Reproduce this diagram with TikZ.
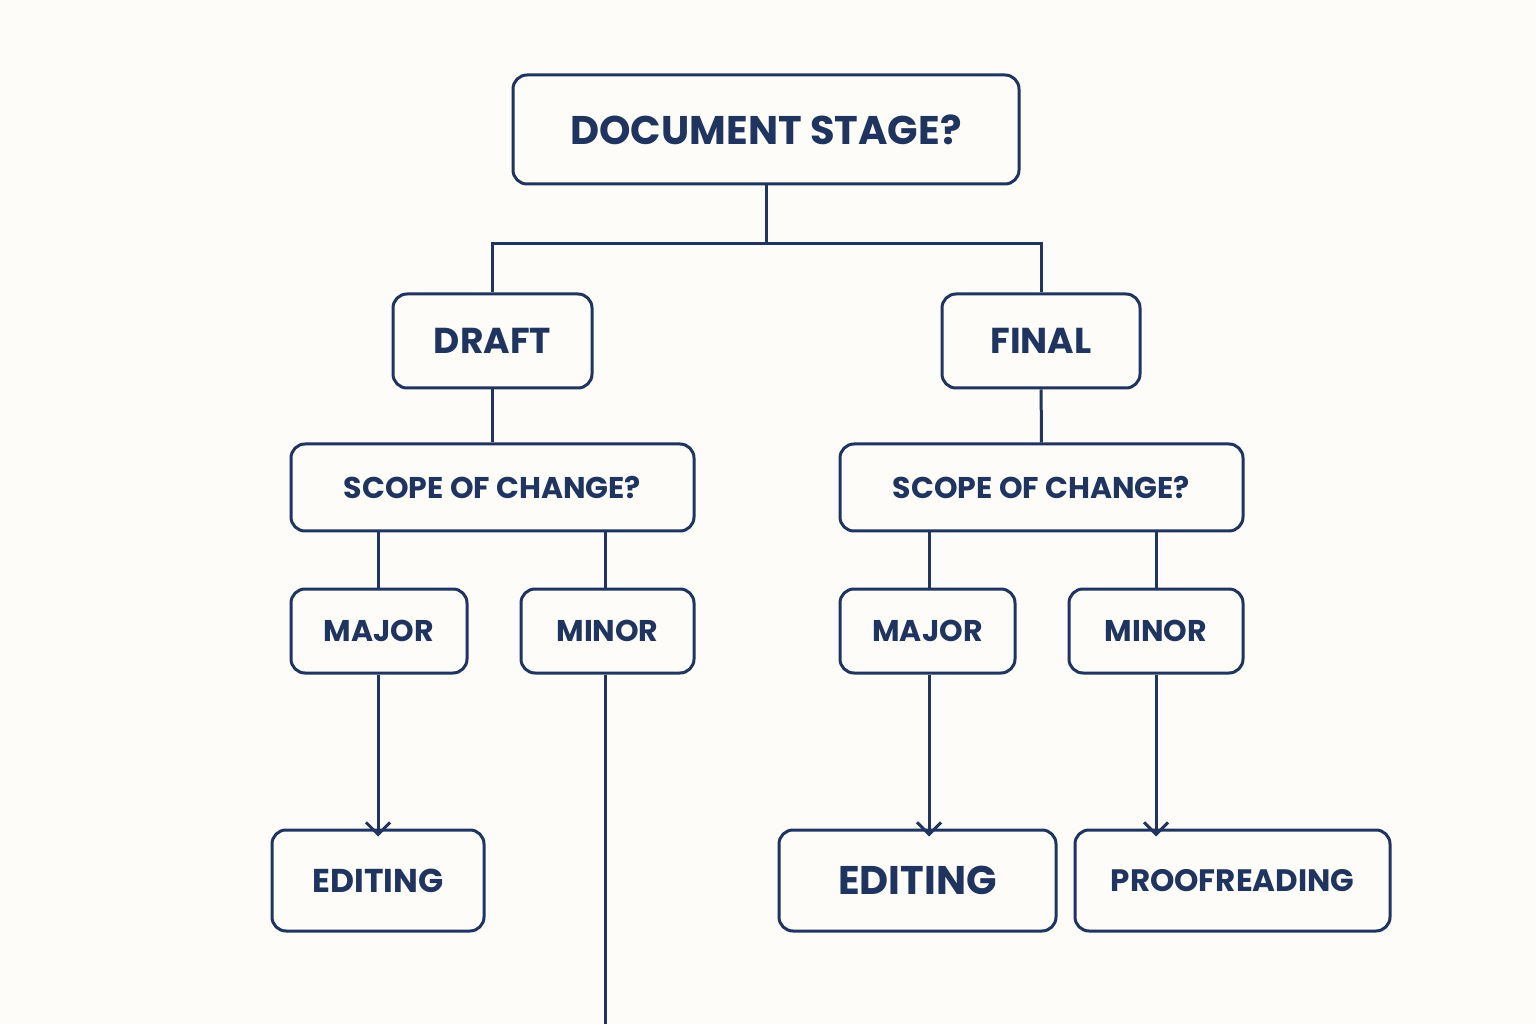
\documentclass[tikz,border=0pt]{standalone}
\usepackage{fontspec}
\setmainfont{Poppins}
\usetikzlibrary{arrows.meta}
\definecolor{navy}{HTML}{1F3560}
\definecolor{bg}{HTML}{FDFCF8}
\begin{document}
\begin{tikzpicture}[x=0.5pt,y=-0.5pt,
  box/.style={draw=navy,line width=1.5pt,rounded corners=7pt,text=navy,font=\bfseries,inner sep=0pt,fill=bg},
  ln/.style={draw=navy,line width=1.5pt},
  arr/.style={ln,-{Straight Barb[length=6pt,width=12pt,line width=1.5pt]}}]
\fill[bg] (0,0) rectangle (1536,1024);
\node[box,minimum width=253pt,minimum height=54.5pt,font=\bfseries\fontsize{20}{24}\selectfont] (top) at (766,129.5) {DOCUMENT STAGE?};
\node[box,minimum width=99.5pt,minimum height=47pt,font=\bfseries\fontsize{18}{22}\selectfont] (draft) at (492.5,341) {DRAFT};
\node[box,minimum width=99pt,minimum height=47pt,font=\bfseries\fontsize{18}{22}\selectfont] (final) at (1041,341) {FINAL};
\node[box,minimum width=201.5pt,minimum height=43.5pt,font=\bfseries\fontsize{15}{18}\selectfont] (scl) at (492.5,487.5) {SCOPE OF CHANGE?};
\node[box,minimum width=201.5pt,minimum height=43.5pt,font=\bfseries\fontsize{15}{18}\selectfont] (scr) at (1041.5,487.5) {SCOPE OF CHANGE?};
\node[box,minimum width=88pt,minimum height=42pt,font=\bfseries\fontsize{15}{18}\selectfont] (majl) at (379,631) {MAJOR};
\node[box,minimum width=86.5pt,minimum height=42pt,font=\bfseries\fontsize{15}{18}\selectfont] (minl) at (607.5,631) {MINOR};
\node[box,minimum width=87.5pt,minimum height=42pt,font=\bfseries\fontsize{15}{18}\selectfont] (majr) at (927.5,631) {MAJOR};
\node[box,minimum width=87pt,minimum height=42pt,font=\bfseries\fontsize{15}{18}\selectfont] (minr) at (1156,631) {MINOR};
\node[box,minimum width=106pt,minimum height=50.5pt,font=\bfseries\fontsize{16.5}{20}\selectfont] (edl) at (378,880.5) {EDITING};
\node[box,minimum width=138.5pt,minimum height=50.5pt,font=\bfseries\fontsize{20}{24}\selectfont] (edr) at (917.5,880.5) {EDITING};
\node[box,minimum width=157.5pt,minimum height=50.5pt,font=\bfseries\fontsize{15.5}{19}\selectfont] (proof) at (1232.5,880.5) {PROOFREADING};
\coordinate (j) at (766,244);
\coordinate (bot) at (605,1024);
\draw[ln] (top.south) -- (j);
\draw[ln] (draft.north) |- (j) -| (final.north);
\draw[ln] (draft) -- (scl);
\draw[ln] (final) -- (scr);
\draw[ln] (majl.north -| 378,0) -- (scl.south -| 378,0);
\draw[ln] (minl.north -| 605,0) -- (scl.south -| 605,0);
\draw[ln] (majr.north -| 929,0) -- (scr.south -| 929,0);
\draw[ln] (minr.north -| 1156,0) -- (scr.south -| 1156,0);
\draw[arr] (majl.south -| 378,0) -- ([yshift=-4pt]edl.north);
\draw[arr] (majr.south -| 929,0) -- ([yshift=-4pt]edr.north -| 929,0);
\draw[arr] (minr.south -| 1156,0) -- ([yshift=-4pt]proof.north -| 1156,0);
\draw[ln] (minl.south -| 605,0) -- (bot);
\end{tikzpicture}
\end{document}
